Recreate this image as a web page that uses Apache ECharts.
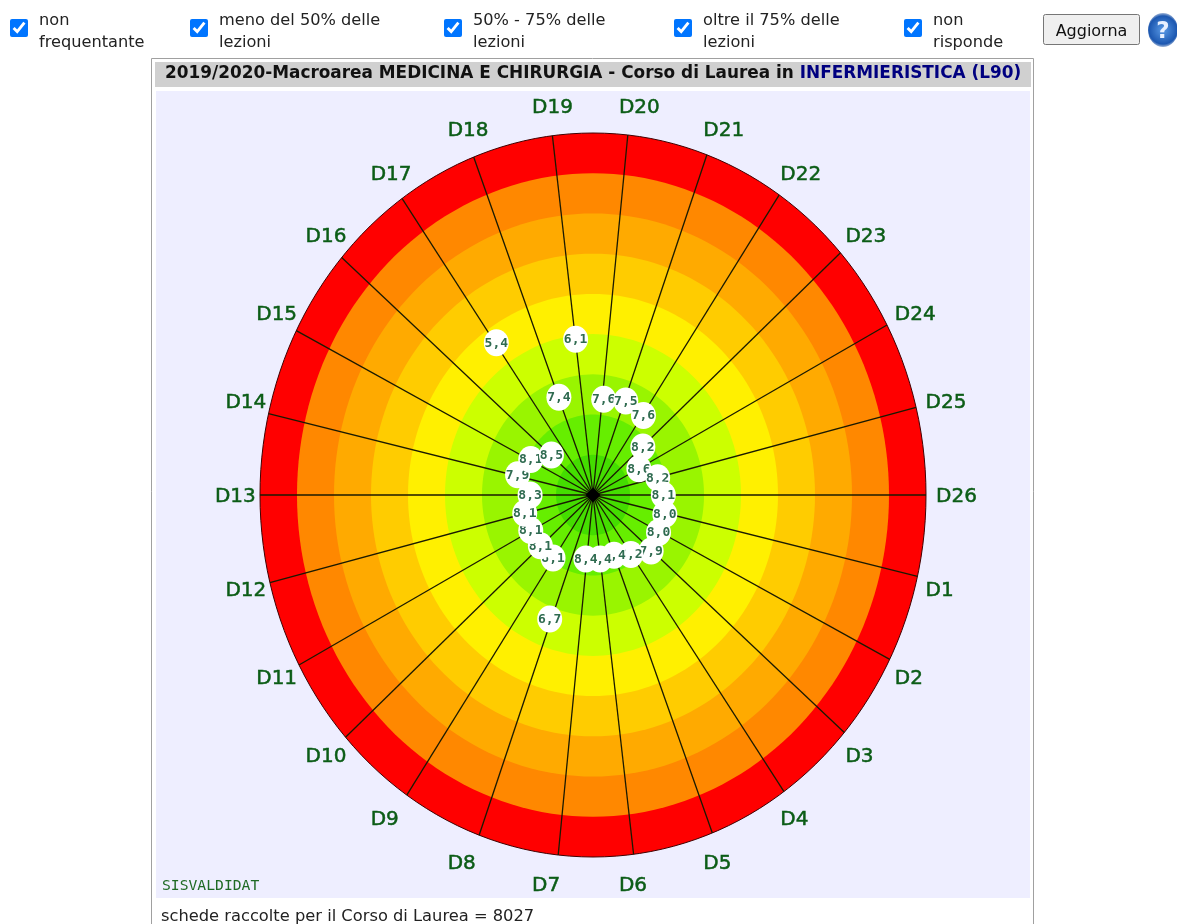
<!DOCTYPE html>
<html>
<head>
<meta charset="utf-8">
<title>Corso di Laurea</title>
<script src="https://cdn.jsdelivr.net/npm/echarts@6/dist/echarts.min.js"></script>
<style>
html, body { margin: 0; padding: 0; background: #fff; overflow: hidden; }
#chart { position: absolute; left: 0; top: 0; width: 1177px; height: 924px; }
.opt { position: absolute; top: 9px; font: 16.2px/22px "DejaVu Sans", sans-serif; color: #222; }
.opt input { position: absolute; left: 0; top: 10px; width: 18px; height: 18px; margin: 0; }
.opt span { position: absolute; left: 29px; top: 0; white-space: nowrap; }
#agg { position: absolute; left: 1043px; top: 14px; width: 97px; height: 31px; font: 16px "DejaVu Sans", sans-serif; padding: 2px 0 0 0; color: #111; }
#help { position: absolute; left: 1148px; top: 13px; width: 30px; height: 34px; border-radius: 50%;
    background: radial-gradient(circle at 50% 50%, #5a9ae6 0%, #1c57b0 62%, #d5dbe6 80%, #fff 100%);
    color: #e8f0ff; font: bold 23px/34px "DejaVu Sans", sans-serif; text-align: center; }
</style>
</head>
<body>
<div id="chart"></div>
<label class="opt" style="left:10px"><input type="checkbox" checked><span>non<br>frequentante</span></label>
<label class="opt" style="left:190px"><input type="checkbox" checked><span>meno del 50% delle<br>lezioni</span></label>
<label class="opt" style="left:444px"><input type="checkbox" checked><span>50% - 75% delle<br>lezioni</span></label>
<label class="opt" style="left:674px"><input type="checkbox" checked><span>oltre il 75% delle<br>lezioni</span></label>
<label class="opt" style="left:904px"><input type="checkbox" checked><span>non<br>risponde</span></label>
<button id="agg">Aggiorna</button>
<div id="help">?</div>
<script>
const categories = ['D1','D2','D3','D4','D5','D6','D7','D8','D9','D10','D11','D12','D13',
    'D14','D15','D16','D17','D18','D19','D20','D21','D22','D23','D24','D25','D26'];
const scores = [8.0,8.0,7.9,8.2,8.4,8.4,8.4,6.7,8.1,8.1,8.1,8.1,8.3,
    7.9,8.1,8.5,5.4,7.4,6.1,7.6,7.5,7.6,8.2,8.6,8.2,8.1];
// outer edge of each band, worst score first
const bandEdges = [1,2,3,4,5,6,7,8,9];
const bandColors = ['#ff0000','#ff8800','#ffaa00','#ffcc00','#fff000','#ccff00','#99f500','#66ee00','#44dd00'];

const TOP = 10;            // score at the centre of the target
const LABEL_R = 9.745;     // where D1..D26 sit, in axis units

// axis coords for a distance from centre and an angle (clockwise from east)
function pt(r, deg) {
    let a = deg * Math.PI / 180;
    return [r * Math.cos(a), -r * Math.sin(a)];
}
function catAngle(i) {
    return (i + 1) * 360 / categories.length;
}

let chart = echarts.init(document.getElementById('chart'));

let option = {
    animation: false,
    title: {
        left: 165, top: 65, padding: 0,
        text: '{a|2019/2020-Macroarea MEDICINA E CHIRURGIA - Corso di Laurea in }{b|INFERMIERISTICA (L90)}',
        textStyle: {
            rich: {
                a: {fontFamily: 'DejaVu Sans', fontWeight: 'bold', fontSize: 16.9, color: '#111'},
                b: {fontFamily: 'DejaVu Sans', fontWeight: 'bold', fontSize: 16.9, color: '#000080'}
            }
        }
    },
    graphic: [
        {type: 'rect', z: -10, shape: {x: 151.5, y: 58.5, width: 882, height: 880}, style: {fill: '#fff', stroke: '#a0a0a0', lineWidth: 1}},
        {type: 'rect', z: -9, shape: {x: 155, y: 62, width: 876, height: 25}, style: {fill: '#d0d0d0'}},
        {type: 'rect', z: -9, shape: {x: 156, y: 91, width: 874, height: 807}, style: {fill: '#eeeeff'}},
        {type: 'text', z: 5, x: 162, y: 879, style: {text: 'SISVALDIDAT', font: '14.7px "DejaVu Sans Mono"', fill: '#1f6a25'}},
        {type: 'text', z: 5, x: 161, y: 909, style: {text: 'schede raccolte per il Corso di Laurea = 8027', font: '16.3px "DejaVu Sans"', fill: '#222'}}
    ],
    grid: {left: 260, top: 133, width: 666, height: 724},
    xAxis: {type: 'value', min: -9, max: 9, show: false},
    yAxis: {type: 'value', min: -9, max: 9, show: false},
    series: [
        {
            // colour bands, outermost first so the inner ones paint over
            type: 'custom',
            coordinateSystem: 'cartesian2d',
            data: bandEdges.map((v, i) => [TOP - v, i]),
            encode: {x: 0, y: 0},
            renderItem(params, api) {
                let r = api.value(0), points = [];
                for (let d = 0; d < 360; d += 2) {
                    points.push(api.coord(pt(r, d)));
                }
                let band = api.value(1);
                return {
                    type: 'polygon',
                    shape: {points: points},
                    style: band === 0
                        ? {fill: bandColors[band], stroke: '#400000', lineWidth: 1}
                        : {fill: bandColors[band]}
                };
            },
            z: 1
        },
        {
            // spokes, the original rounds their bearing down to whole degrees
            type: 'custom',
            coordinateSystem: 'cartesian2d',
            data: categories.map((c, i) => [i]),
            encode: {x: 0, y: 0},
            renderItem(params, api) {
                let a = api.coord(pt(0, 0));
                let b = api.coord(pt(TOP - bandEdges[0], Math.floor(catAngle(api.value(0)))));
                return {
                    type: 'line',
                    shape: {x1: a[0], y1: a[1], x2: b[0], y2: b[1]},
                    style: {stroke: '#1a1a00', lineWidth: 1.3}
                };
            },
            z: 2
        },
        {
            // the lines clot together at the centre
            type: 'scatter',
            data: [[0, 0]],
            symbol: 'diamond',
            symbolSize: 15,
            itemStyle: {color: '#000', opacity: 1},
            z: 2
        },
        {
            // white bubbles with the score, later ones cover earlier ones
            type: 'custom',
            coordinateSystem: 'cartesian2d',
            data: scores.map((v, i) => [v, i]),
            encode: {x: 0, y: 0},
            renderItem(params, api) {
                let v = api.value(0);
                let p = api.coord(pt(TOP - v, catAngle(api.value(1))));
                return {
                    type: 'group',
                    children: [
                        {type: 'ellipse', shape: {cx: p[0], cy: p[1], rx: 12.5, ry: 13.5}, style: {fill: '#fff'}},
                        {type: 'text', style: {
                            x: p[0], y: p[1] + 0.5,
                            text: v.toFixed(1).replace('.', ','),
                            font: 'bold 13px "DejaVu Sans Mono"',
                            fill: '#2f6b50', align: 'center', verticalAlign: 'middle'
                        }}
                    ]
                };
            },
            z: 3
        },
        {
            // D1..D26 around the outside, anchored on their left edge
            type: 'custom',
            coordinateSystem: 'cartesian2d',
            data: categories.map((c, i) => [i]),
            encode: {x: 0, y: 0},
            renderItem(params, api) {
                let i = api.value(0);
                let p = api.coord(pt(LABEL_R, catAngle(i)));
                return {
                    type: 'text',
                    style: {
                        x: p[0] - 17.5, y: p[1] + 2,
                        text: categories[i],
                        font: '20px "DejaVu Sans"',
                        fill: '#0b5c16', stroke: '#0b5c16', lineWidth: 0.5,
                        align: 'left', verticalAlign: 'middle'
                    }
                };
            },
            z: 4
        }
    ]
};
chart.setOption(option);
</script>
</body>
</html>
